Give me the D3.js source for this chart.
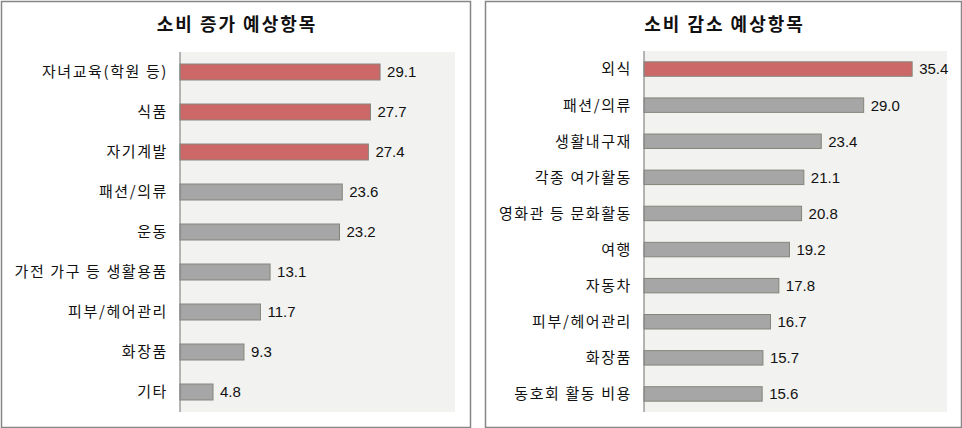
<!DOCTYPE html>
<html><head><meta charset="utf-8">
<script src="https://cdn.jsdelivr.net/npm/d3@7"></script>
<style>
body{margin:0;background:#fff;}
svg{display:block;}
</style></head>
<body>
<svg id="c" width="962" height="428"></svg>
<script>
const incTitle = "소비 증가 예상항목";
const incCategories = ["자녀교육(학원 등)","식품","자기계발","패션/의류","운동","가전 가구 등 생활용품","피부/헤어관리","화장품","기타"];
const incValues = [29.1,27.7,27.4,23.6,23.2,13.1,11.7,9.3,4.8];
const incHighlight = [true,true,true,false,false,false,false,false,false];

const decTitle = "소비 감소 예상항목";
const decCategories = ["외식","패션/의류","생활내구재","각종 여가활동","영화관 등 문화활동","여행","자동차","피부/헤어관리","화장품","동호회 활동 비용"];
const decValues = [35.4,29.0,23.4,21.1,20.8,19.2,17.8,16.7,15.7,15.6];
const decHighlight = [true,false,false,false,false,false,false,false,false,false];

const xDomain = [0, 40];

const svg = d3.select("#c");

function panel(cfg){
  const g = svg.append("g");
  g.append("rect").attr("x",cfg.bx+0.5).attr("y",cfg.by+0.5)
    .attr("width",cfg.bw-1).attr("height",cfg.bh-1)
    .attr("fill","#fff").attr("stroke","#868686").attr("stroke-width",1.5);
  g.append("text").attr("x",cfg.bx+cfg.bw/2+1).attr("y",31)
    .attr("text-anchor","middle")
    .attr("font-family","'Noto Sans CJK KR', sans-serif")
    .attr("font-weight","bold").attr("font-size",18).attr("letter-spacing","2px")
    .attr("fill","#111").text(cfg.title);
  const x = d3.scaleLinear().domain(xDomain).range([cfg.px0,cfg.px1]);
  const y = d3.scaleBand().domain(cfg.cats).range([cfg.py0,cfg.py1]).paddingInner(0.6).paddingOuter(0.3);
  g.append("rect").attr("x",cfg.px0).attr("y",cfg.py0)
    .attr("width",cfg.px1-cfg.px0).attr("height",cfg.py1-cfg.py0).attr("fill","#f2f2f0");
  const data = cfg.cats.map((c,i)=>({c, v:cfg.vals[i], h:cfg.hl[i]}));
  g.selectAll(".bar").data(data).join("rect")
    .attr("x",x(0)).attr("y",d=>y(d.c))
    .attr("width",d=>x(d.v)-x(0)).attr("height",y.bandwidth())
    .attr("fill",d=>d.h?"#cd6868":"#a6a6a6")
    .attr("stroke","#84857a").attr("stroke-width",1);
  g.selectAll(".val").data(data).join("text")
    .attr("x",d=>x(d.v)+7).attr("y",d=>y(d.c)+y.bandwidth()/2)
    .attr("dy","0.36em")
    .attr("font-family","'Liberation Sans', Arial, sans-serif").attr("font-size",15)
    .attr("fill","#111").text(d=>d.v.toFixed(1));
  g.selectAll(".lab").data(data).join("text")
    .attr("x",cfg.px0-12).attr("y",d=>y(d.c)+y.bandwidth()/2)
    .attr("dy","0.36em").attr("text-anchor","end")
    .attr("font-family","'Noto Sans CJK KR', sans-serif").attr("font-size",15)
    .attr("letter-spacing","1.6px")
    .attr("fill","#111").text(d=>d.c);
  g.append("line").attr("x1",cfg.px0).attr("x2",cfg.px0)
    .attr("y1",cfg.py0).attr("y2",cfg.py1).attr("stroke","#868686").attr("stroke-width",1.2);
}

panel({bx:1,by:1,bw:470,bh:427,title:incTitle,cats:incCategories,vals:incValues,hl:incHighlight,
  px0:180,px1:455,py0:52,py1:412});
panel({bx:485,by:1,bw:477,bh:427,title:decTitle,cats:decCategories,vals:decValues,hl:decHighlight,
  px0:644,px1:947,py0:51,py1:412});
</script>
</body></html>
